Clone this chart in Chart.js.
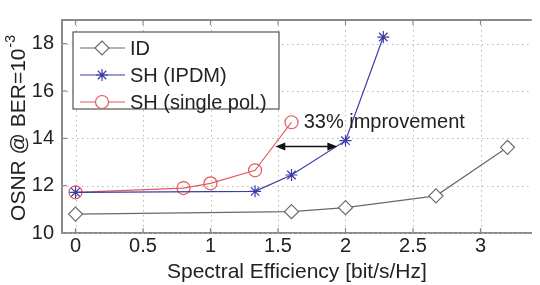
<!DOCTYPE html>
<html><head><meta charset="utf-8">
<script src="https://cdn.jsdelivr.net/npm/chart.js@4/dist/chart.umd.min.js"></script>
<style>html,body{margin:0;padding:0;background:#fff}#wrap{width:540px;height:285px}</style>
</head><body><div id="wrap"><canvas id="c" width="540" height="285"></canvas></div>
<script>
const seriesNames = ['ID', 'SH (IPDM)', 'SH (single pol.)'];
const idX = [0, 1.6, 2, 2.67, 3.2];
const idY = [10.8, 10.9, 11.07, 11.57, 13.62];
const ipdmX = [0, 1.33, 1.6, 2, 2.28];
const ipdmY = [11.72, 11.76, 12.45, 13.9, 18.28];
const singleX = [0, 0.8, 1, 1.33, 1.6];
const singleY = [11.72, 11.9, 12.1, 12.65, 14.68];
const xTicks = [0, 0.5, 1, 1.5, 2, 2.5, 3];
const yTicks = [10, 12, 14, 16, 18];
const arrowX = [1.48, 1.94];
const arrowY = 13.65;
const annText = '33% improvement';
const annX = 1.69, annY = 14.65;
const xTitle = 'Spectral Efficiency [bit/s/Hz]';
const yTitleMain = 'OSNR @ BER=10';
const yTitleSup = '-3';

const FONT = '"Liberation Sans", Arial, sans-serif';
const TXT = '#222';
const AX = '#8a8a8a';
const GRID = '#b8b8b8';
const cols = ['#6a6a6a', '#3c3ca8', '#e25a5a'];
const fills = ['#ffffff', '#3c3ca8', 'rgba(255,255,255,0)'];
const pts = (xs, ys) => xs.map((x, i) => ({x, y: ys[i]}));

const gridPlugin = {
  id: 'gridPlugin',
  beforeDatasetsDraw(chart) {
    const {ctx, chartArea: a, scales: {x, y}} = chart;
    ctx.save();
    ctx.strokeStyle = GRID; ctx.lineWidth = 1; ctx.setLineDash([1.5, 3.5]);
    xTicks.forEach(v => {
      const px = Math.round(x.getPixelForValue(v)) + 0.5;
      ctx.beginPath(); ctx.moveTo(px, a.top); ctx.lineTo(px, a.bottom); ctx.stroke();
    });
    yTicks.forEach(v => {
      const py = Math.round(y.getPixelForValue(v)) + 0.5;
      ctx.beginPath(); ctx.moveTo(a.left, py); ctx.lineTo(a.right, py); ctx.stroke();
    });
    ctx.restore();
  }
};

const extras = {
  id: 'extras',
  afterDraw(chart) {
    const {ctx, chartArea: a, scales: {x, y}} = chart;
    ctx.save();
    // top border
    ctx.strokeStyle = AX; ctx.lineWidth = 2;
    ctx.beginPath(); ctx.moveTo(a.left - 1, a.top); ctx.lineTo(a.right, a.top); ctx.stroke();
    // inward ticks
    ctx.lineWidth = 1.2;
    xTicks.forEach(v => {
      const px = x.getPixelForValue(v);
      ctx.beginPath(); ctx.moveTo(px, a.bottom); ctx.lineTo(px, a.bottom - 5); ctx.stroke();
      ctx.beginPath(); ctx.moveTo(px, a.top); ctx.lineTo(px, a.top + 5); ctx.stroke();
    });
    yTicks.forEach(v => {
      const py = y.getPixelForValue(v);
      ctx.beginPath(); ctx.moveTo(a.left, py); ctx.lineTo(a.left + 5, py); ctx.stroke();
    });
    // arrow
    const x1 = x.getPixelForValue(arrowX[0]), x2 = x.getPixelForValue(arrowX[1]);
    const ay = y.getPixelForValue(arrowY);
    ctx.strokeStyle = '#111'; ctx.fillStyle = '#111'; ctx.lineWidth = 1.5;
    ctx.beginPath(); ctx.moveTo(x1 + 6, ay); ctx.lineTo(x2 - 6, ay); ctx.stroke();
    [[x1, 1], [x2, -1]].forEach(([px, d]) => {
      ctx.beginPath(); ctx.moveTo(px, ay); ctx.lineTo(px + d * 10, ay - 4); ctx.lineTo(px + d * 10, ay + 4); ctx.closePath(); ctx.fill();
    });
    // annotation text
    ctx.fillStyle = TXT; ctx.font = '20px ' + FONT; ctx.textBaseline = 'middle'; ctx.textAlign = 'left';
    ctx.fillText(annText, x.getPixelForValue(annX), y.getPixelForValue(annY));
    // legend
    const L = a.left + 11, T = a.top + 12, R = a.left + 217, B = a.top + 89;
    ctx.fillStyle = '#fff'; ctx.fillRect(L, T, R - L, B - T);
    ctx.strokeStyle = '#555'; ctx.lineWidth = 1.2; ctx.strokeRect(L, T, R - L, B - T);
    chart.data.datasets.forEach((ds, i) => {
      const ry = T + 16 + i * 27;
      ctx.strokeStyle = ds.borderColor; ctx.lineWidth = 1.2;
      ctx.beginPath(); ctx.moveTo(L + 7, ry); ctx.lineTo(L + 52, ry); ctx.stroke();
      ctx.fillStyle = i === 1 ? ds.pointBackgroundColor : '#ffffff'; ctx.strokeStyle = ds.pointBorderColor;
      Chart.helpers.drawPoint(ctx, {pointStyle: ds.pointStyle, radius: ds.pointRadius, borderWidth: ds.pointBorderWidth || 1.2}, L + 29, ry);
      ctx.fillStyle = TXT; ctx.font = '20px ' + FONT; ctx.textAlign = 'left'; ctx.textBaseline = 'middle';
      ctx.fillText(ds.label, L + 57, ry + 1);
    });
    // y title
    ctx.save();
    ctx.translate(19, (a.top + a.bottom) / 2 + 2);
    ctx.rotate(-Math.PI / 2);
    ctx.font = '21px ' + FONT;
    const wMain = ctx.measureText(yTitleMain).width;
    ctx.font = '14px ' + FONT;
    const wSup = ctx.measureText(yTitleSup).width;
    const start = -(wMain + wSup) / 2;
    ctx.fillStyle = TXT; ctx.textAlign = 'left'; ctx.textBaseline = 'middle';
    ctx.font = '21px ' + FONT;
    ctx.fillText(yTitleMain, start, 0);
    ctx.font = '14px ' + FONT;
    ctx.fillText(yTitleSup, start + wMain + 1, -8);
    ctx.restore();
    ctx.restore();
  }
};

function mk(label, xs, ys, i, style, r) {
  return {
    label, data: pts(xs, ys), borderColor: cols[i], backgroundColor: '#fff',
    pointBackgroundColor: fills[i],
    pointBorderColor: cols[i], pointStyle: style, pointRadius: r, pointBorderWidth: 1.2,
    borderWidth: 1.2, tension: 0, showLine: true, fill: false
  };
}

new Chart(document.getElementById('c'), {
  type: 'scatter',
  data: {datasets: [
    mk(seriesNames[0], idX, idY, 0, 'rectRot', 7),
    mk(seriesNames[1], ipdmX, ipdmY, 1, 'star', 6),
    mk(seriesNames[2], singleX, singleY, 2, 'circle', 6.5)
  ]},
  options: {
    responsive: false, animation: false, devicePixelRatio: 1,
    layout: {padding: {top: 9, right: 0, left: 0, bottom: 0}},
    plugins: {legend: {display: false}, tooltip: {enabled: false}},
    scales: {
      x: {
        type: 'linear', min: -0.1, max: 3.38,
        afterBuildTicks: s => { s.ticks = xTicks.map(v => ({value: v})); },
        afterFit: s => { s.height = 52; },
        ticks: {color: TXT, font: {family: FONT, size: 20}, padding: 1, autoSkip: false, maxRotation: 0,
                callback: v => String(v)},
        grid: {display: false, drawTicks: false},
        border: {display: true, color: AX, width: 2},
        title: {display: true, text: xTitle, color: TXT, font: {family: FONT, size: 21}, padding: {top: 0, bottom: 0}}
      },
      y: {
        type: 'linear', min: 10, max: 19,
        afterBuildTicks: s => { s.ticks = yTicks.map(v => ({value: v})); },
        afterFit: s => { s.width = 62; },
        ticks: {color: TXT, font: {family: FONT, size: 20}, padding: 8, callback: v => String(v)},
        grid: {display: false, drawTicks: false},
        border: {display: true, color: AX, width: 2}
      }
    }
  },
  plugins: [gridPlugin, extras]
});
</script></body></html>
